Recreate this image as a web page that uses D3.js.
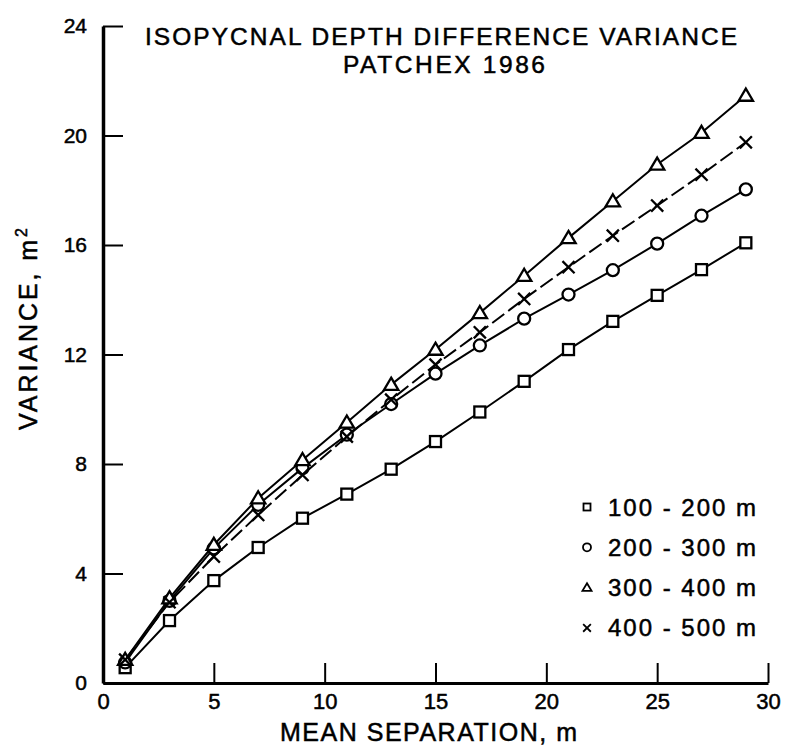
<!DOCTYPE html>
<html><head><meta charset="utf-8">
<script src="https://cdn.jsdelivr.net/npm/d3@7"></script>
<style>body{margin:0;background:#fff}svg{display:block}text{font-family:"Liberation Sans",Arial,sans-serif;fill:#000;stroke:#000;stroke-width:0.5px}</style>
</head><body><div id="chart"></div>
<script>
const separations = [1,3,5,7,9,11,13,15,17,19,21,23,25,27,29];
const v100_200 = [0.56,2.28,3.74,4.95,6.02,6.90,7.81,8.82,9.90,11.02,12.18,13.21,14.16,15.10,16.08];
const v200_300 = [0.75,3.00,4.92,6.51,7.85,9.07,10.19,11.30,12.33,13.31,14.19,15.08,16.05,17.07,18.03];
const v300_400 = [0.85,3.10,5.05,6.75,8.15,9.52,10.90,12.18,13.52,14.88,16.26,17.60,18.94,20.10,21.46];
const v400_500 = [0.85,2.95,4.62,6.14,7.60,9.00,10.35,11.63,12.81,14.03,15.19,16.34,17.44,18.57,19.75];
const seriesNames = ["100 - 200  m","200 - 300  m","300 - 400  m","400 - 500  m"];
const seriesSymbols = ["square","circle","triangle","cross"];
const xTicks = [0,5,10,15,20,25,30];
const yTicks = [0,4,8,12,16,20,24];

const W=788,H=747;
const svg=d3.select("#chart").append("svg").attr("width",W).attr("height",H);
const x=d3.scaleLinear().domain([0,30]).range([103,768]);
const y=d3.scaleLinear().domain([0,24]).range([683,26]);

// axes
const gx=svg.append("g").attr("transform",`translate(0,${y(0)})`)
  .call(d3.axisBottom(x).tickValues(xTicks).tickSizeInner(-20).tickSizeOuter(0).tickPadding(24));
const gy=svg.append("g").attr("transform",`translate(${x(0)},0)`)
  .call(d3.axisLeft(y).tickValues(yTicks).tickSizeInner(-20).tickSizeOuter(0).tickPadding(16));
gx.select(".domain").attr("stroke","#000").attr("stroke-width",3);
gy.select(".domain").attr("stroke","#000").attr("stroke-width",3.5);
gx.selectAll(".tick line").attr("stroke","#000").attr("stroke-width",2);
gy.selectAll(".tick line").attr("stroke","#000").attr("stroke-width",2);
gx.selectAll(".tick text").attr("font-size",22).attr("font-family","Liberation Sans, Arial, sans-serif").attr("dy","0.1em");
gy.selectAll(".tick text").attr("font-size",21).attr("font-family","Liberation Sans, Arial, sans-serif");
gx.selectAll(".tick").filter(d=>d===0).select("line").remove();

// marker drawing
function marker(g,type,cx,cy,s){
  if(type==="square") g.append("rect").attr("x",cx-s/2).attr("y",cy-s/2).attr("width",s).attr("height",s);
  else if(type==="circle") g.append("circle").attr("cx",cx).attr("cy",cy).attr("r",s/2+0.5);
  else if(type==="triangle"){const h=s*1.05;g.append("path").attr("d",`M${cx},${cy-h*0.6}L${cx+s*0.65},${cy+h*0.45}L${cx-s*0.65},${cy+h*0.45}Z`);}
  else {const r=s*0.55;g.append("path").attr("d",`M${cx-r},${cy-r}L${cx+r},${cy+r}M${cx-r},${cy+r}L${cx+r},${cy-r}`).attr("fill","none");}
}

const allSeries=[v100_200,v200_300,v300_400,v400_500];
const line=d3.line().x(d=>x(d[0])).y(d=>y(d[1]));
allSeries.forEach((vals,i)=>{
  const pts=separations.map((s,j)=>[s,vals[j]]);
  svg.append("path").attr("d",line(pts)).attr("fill","none").attr("stroke","#000").attr("stroke-width",2)
    .attr("stroke-dasharray",i===3?"15,5":null);
});
allSeries.forEach((vals,i)=>{
  const g=svg.append("g").attr("fill","#fff").attr("stroke","#000").attr("stroke-width",2.3);
  separations.forEach((s,j)=>marker(g,seriesSymbols[i],x(s),y(vals[j]),11));
});

// legend
const lg=svg.append("g");
seriesNames.forEach((n,i)=>{
  const ly=507+i*40.3;
  const g=lg.append("g").attr("fill","#fff").attr("stroke","#000").attr("stroke-width",1.8);
  marker(g,seriesSymbols[i],587,ly,7);
  lg.append("text").attr("x",608).attr("y",ly+8.5).attr("font-size",24).text(n)
    .attr("textLength",148).attr("lengthAdjust","spacing");
});

// titles
svg.append("text").attr("x",145).attr("y",45).attr("font-size",24.5)
  .attr("textLength",592).attr("lengthAdjust","spacing").text("ISOPYCNAL DEPTH DIFFERENCE VARIANCE");
svg.append("text").attr("x",343).attr("y",73).attr("font-size",24.5)
  .attr("textLength",202).attr("lengthAdjust","spacing").text("PATCHEX  1986");
svg.append("text").attr("x",280).attr("y",741).attr("font-size",25)
  .attr("textLength",297).attr("lengthAdjust","spacing").text("MEAN SEPARATION,  m");
const yt=svg.append("text").attr("transform","translate(37,430) rotate(-90)").attr("font-size",25)
  .attr("textLength",202).attr("lengthAdjust","spacing");
yt.append("tspan").text("VARIANCE,  m");
yt.append("tspan").attr("font-size",16).attr("dy",-10).text("2");
</script></body></html>
